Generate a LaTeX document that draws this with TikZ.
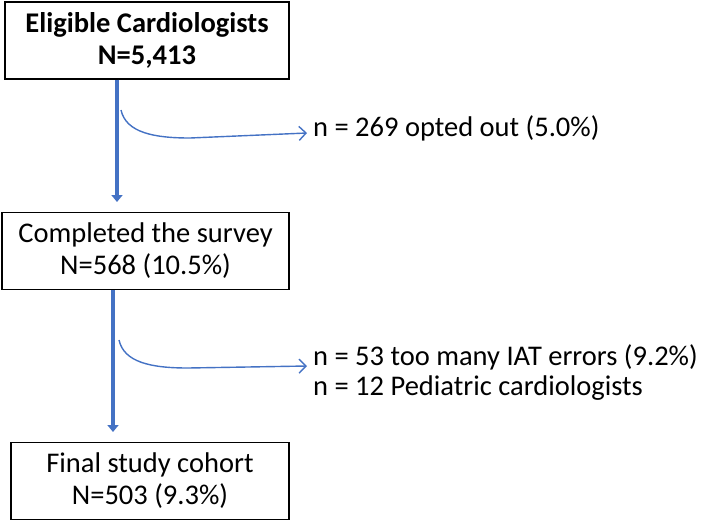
\documentclass[tikz,border=0pt]{standalone}
\usepackage{fontspec}
\setmainfont{Carlito}
\usetikzlibrary{arrows.meta}
\definecolor{flowblue}{RGB}{68,114,196}
\newcommand{\boxfont}{\fontsize{28.5}{32}\selectfont}
\tikzset{
  stagebox/.style={draw, line width=1.3pt, align=center, inner sep=0pt, minimum height=77pt, font=\boxfont},
  mainarrow/.style={flowblue, line width=3.8pt, -{Triangle[length=7pt,width=11pt]}},
  sidearrow/.style={flowblue, line width=1.4pt, -{Straight Barb[length=7pt,width=14pt]}},
  sidetext/.style={anchor=base west, align=left, inner sep=0pt, font=\fontsize{28.5}{30}\selectfont},
}

\begin{document}
\begin{tikzpicture}[x=1pt,y=-1pt]
\useasboundingbox (0,0) rectangle (709,520);
% boxes
\node[stagebox, minimum width=284pt, font=\boxfont\bfseries] (eligible) at (147,40.5) {Eligible Cardiologists\\N=5,413};
\node[stagebox, minimum width=287pt] (survey) at (145.5,251) {Completed the survey\\N=568 (10.5\%)};
\node[stagebox, minimum width=278pt] (cohort) at (150,481) {Final study cohort\\N=503 (9.3\%)};
% exclusions (base is the last line)
\node[sidetext] (optout) at (313,136) {n = 269 opted out (5.0\%)};
\node[sidetext] (excluded) at (313,395) {n = 53 too many IAT errors (9.2\%)\\n = 12 Pediatric cardiologists};
% main flow
\coordinate (tip1) at (117,202);
\coordinate (tip2) at (113,432);
\draw[mainarrow] (eligible.south -| tip1) -- (tip1);
\draw[mainarrow] (survey.south -| tip2) -- (tip2);
% side branches
\coordinate (branch1) at (121,110);
\coordinate (branch2) at (119,340);
\draw[sidearrow] (branch1) .. controls (126,133) and (155,138) .. (190,138) -- ([xshift=-6pt,yshift=3pt]optout.base west);
\draw[sidearrow] (branch2) .. controls (124,362) and (150,368) .. (188,368) -- ([xshift=-6pt,yshift=29pt]excluded.base west);
\end{tikzpicture}
\end{document}
